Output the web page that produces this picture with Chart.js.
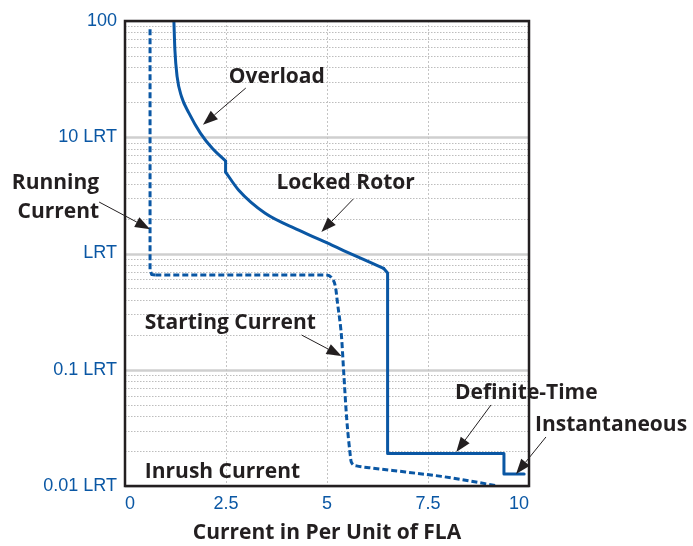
<!DOCTYPE html>
<html>
<head>
<meta charset="utf-8">
<script src="https://cdn.jsdelivr.net/npm/chart.js@4.4.1/dist/chart.umd.min.js"></script>
<style>
  body { margin: 0; background: #fff; }
  canvas { display: block; }
</style>
</head>
<body>
<canvas id="chart" width="693" height="546"></canvas>
<script>
// tick labels
const xTickValues = [0, 2.5, 5, 7.5, 10];
const xTickLabels = ['0', '2.5', '5', '7.5', '10'];
const yTickValues = [0.01, 0.1, 1, 10, 100];
const yTickLabels = ['0.01 LRT', '0.1 LRT', 'LRT', '10 LRT', '100'];

// relay curve, split in smooth and straight parts
const overloadX = [1.21, 1.235, 1.29, 1.40, 1.58, 1.87, 2.16, 2.49];
const overloadY = [100, 56.3, 33.2, 22.3, 16.2, 10.8, 8.04, 6.25];
const kinkX = [2.49, 2.49];
const kinkY = [6.25, 5.02];
const lockedX = [2.49, 2.81, 3.47, 4.30, 5.12, 5.41, 6.40];
const lockedY = [5.02, 3.52, 2.22, 1.59, 1.18, 1.06, 0.746];
const stepX = [6.40, 6.5, 6.5, 9.38, 9.38, 9.88];
const stepY = [0.746, 0.68, 0.019, 0.019, 0.0127, 0.0127];

// motor current: running, then starting / inrush
const runningX = [0.62, 0.62, 0.66, 0.75];
const runningY = [85, 0.72, 0.66, 0.653];
const startingX = [0.75, 4.95, 5.12, 5.21, 5.26, 5.36, 5.41, 5.49, 5.57, 5.6, 5.73, 6.1, 6.94, 7.83, 8.57, 9.16];
const startingY = [0.653, 0.653, 0.615, 0.515, 0.375, 0.191, 0.0995, 0.037, 0.0192, 0.0161, 0.0149, 0.0143, 0.0132, 0.0121, 0.011, 0.0101];

// callouts: text anchor and arrow (from -> to) in data units
const notes = [
  { text: ['Overload'], x: 2.57, y: 33, align: 'left', arrow: [2.99, 26.5, 1.93, 12.8] },
  { text: ['Running', 'Current'], x: -0.64, y: 4.04, y2: 2.28, align: 'right', arrow: [-0.64, 2.77, 0.62, 1.62] },
  { text: ['Locked Rotor'], x: 3.75, y: 4.04, align: 'left', arrow: [5.65, 2.94, 4.86, 1.53] },
  { text: ['Starting Current'], x: 0.49, y: 0.252, align: 'left', arrow: [4.37, 0.199, 5.36, 0.131] },
  { text: ['Inrush Current'], x: 0.49, y: 0.0132, align: 'left' },
  { text: ['Definite-Time'], x: 8.17, y: 0.063, align: 'left', arrow: [9.06, 0.0498, 8.2, 0.0196] },
  { text: ['Instantaneous'], x: 10.15, y: 0.0335, align: 'left', arrow: [10.42, 0.0264, 9.68, 0.0127] }
];

const blue = '#0a57a4';
const ink = '#231f20';
const tickFont = { family: "'Liberation Sans Narrow', sans-serif", size: 18 };
const boldFont = "bold 21px 'Open Sans', sans-serif";

const toPoints = (xs, ys) => xs.map((x, i) => ({ x: x, y: ys[i] }));

function series(xs, ys, smooth, dashed) {
  return {
    data: toPoints(xs, ys),
    borderColor: blue,
    borderWidth: 3,
    borderJoinStyle: 'round',
    borderCapStyle: dashed ? 'butt' : 'round',
    borderDash: dashed ? [6, 3] : [],
    cubicInterpolationMode: smooth ? 'monotone' : 'default',
    tension: 0,
    pointRadius: 0
  };
}

const gridPlugin = {
  id: 'grid',
  beforeDatasetsDraw(chart) {
    const { ctx, chartArea: a, scales } = chart;
    ctx.save();
    scales.y.ticks.forEach(t => {
      const y = Math.round(scales.y.getPixelForValue(t.value)) + 0.5;
      const major = yTickValues.includes(t.value);
      ctx.beginPath();
      ctx.strokeStyle = major ? '#cfcfcf' : '#bdbdbd';
      ctx.lineWidth = major ? 2.5 : 1;
      ctx.setLineDash(major ? [] : [1.5, 1.5]);
      ctx.moveTo(a.left, y);
      ctx.lineTo(a.right, y);
      ctx.stroke();
    });
    xTickValues.slice(1, -1).forEach(v => {
      const x = Math.round(scales.x.getPixelForValue(v)) + 0.5;
      ctx.beginPath();
      ctx.strokeStyle = '#c4c4c4';
      ctx.lineWidth = 1;
      ctx.setLineDash([2, 2]);
      ctx.moveTo(x, a.top);
      ctx.lineTo(x, a.bottom);
      ctx.stroke();
    });
    ctx.restore();
  },
  afterDatasetsDraw(chart) {
    const { ctx, chartArea: a, scales } = chart;
    ctx.save();
    ctx.strokeStyle = ink;
    ctx.lineWidth = 2.5;
    ctx.strokeRect(a.left, a.top, a.right - a.left, a.bottom - a.top);

    ctx.font = boldFont;
    ctx.fillStyle = ink;
    ctx.textBaseline = 'middle';
    notes.forEach(n => {
      ctx.textAlign = n.align;
      const x = scales.x.getPixelForValue(n.x);
      ctx.fillText(n.text[0], x, scales.y.getPixelForValue(n.y));
      if (n.text[1]) ctx.fillText(n.text[1], x, scales.y.getPixelForValue(n.y2));
      if (n.arrow) {
        const x1 = scales.x.getPixelForValue(n.arrow[0]);
        const y1 = scales.y.getPixelForValue(n.arrow[1]);
        const x2 = scales.x.getPixelForValue(n.arrow[2]);
        const y2 = scales.y.getPixelForValue(n.arrow[3]);
        const ang = Math.atan2(y2 - y1, x2 - x1);
        const len = 15, half = 5.5;
        const bx = x2 - len * Math.cos(ang), by = y2 - len * Math.sin(ang);
        ctx.beginPath();
        ctx.lineWidth = 1;
        ctx.moveTo(x1, y1);
        ctx.lineTo(bx, by);
        ctx.stroke();
        ctx.beginPath();
        ctx.moveTo(x2, y2);
        ctx.lineTo(bx + half * Math.sin(ang), by - half * Math.cos(ang));
        ctx.lineTo(bx - half * Math.sin(ang), by + half * Math.cos(ang));
        ctx.closePath();
        ctx.fill();
      }
    });
    ctx.restore();
  }
};

new Chart(document.getElementById('chart'), {
  type: 'line',
  data: {
    datasets: [
      series(overloadX, overloadY, true, false),
      series(kinkX, kinkY, false, false),
      series(lockedX, lockedY, true, false),
      series(stepX, stepY, false, false),
      series(runningX, runningY, false, true),
      series(startingX, startingY, true, true)
    ]
  },
  options: {
    responsive: false,
    animation: false,
    layout: { padding: { top: 21, right: 164, left: 0, bottom: 0 } },
    plugins: {
      legend: { display: false },
      tooltip: { enabled: false }
    },
    scales: {
      x: {
        type: 'linear',
        min: 0,
        max: 10,
        afterBuildTicks: s => { s.ticks = xTickValues.map(v => ({ value: v })); },
        afterFit: s => { s.height = 60; },
        grid: { display: false, drawTicks: false },
        border: { display: false },
        ticks: {
          autoSkip: false,
          maxRotation: 0,
          align: 'inner',
          padding: 7,
          color: blue,
          font: tickFont,
          callback: v => xTickLabels[xTickValues.indexOf(v)]
        },
        title: {
          display: true,
          text: 'Current in Per Unit of FLA',
          color: ink,
          font: { family: "'Open Sans', sans-serif", size: 21, weight: 'bold' },
          padding: { top: 2, bottom: 0 }
        }
      },
      y: {
        type: 'logarithmic',
        min: 0.01,
        max: 100,
        afterBuildTicks: s => {
          const t = [];
          yTickValues.slice(0, -1).forEach(d => {
            for (let m = 1; m < 10; m++) t.push({ value: +(d * m).toPrecision(3) });
          });
          t.push({ value: 100 });
          s.ticks = t;
        },
        afterFit: s => { s.width = 125; },
        grid: { display: false, drawTicks: false },
        border: { display: false },
        ticks: {
          autoSkip: false,
          padding: 8,
          color: blue,
          font: tickFont,
          callback: v => {
            const i = yTickValues.indexOf(v);
            return i >= 0 ? yTickLabels[i] : '';
          }
        }
      }
    }
  },
  plugins: [gridPlugin]
});
</script>
</body>
</html>
